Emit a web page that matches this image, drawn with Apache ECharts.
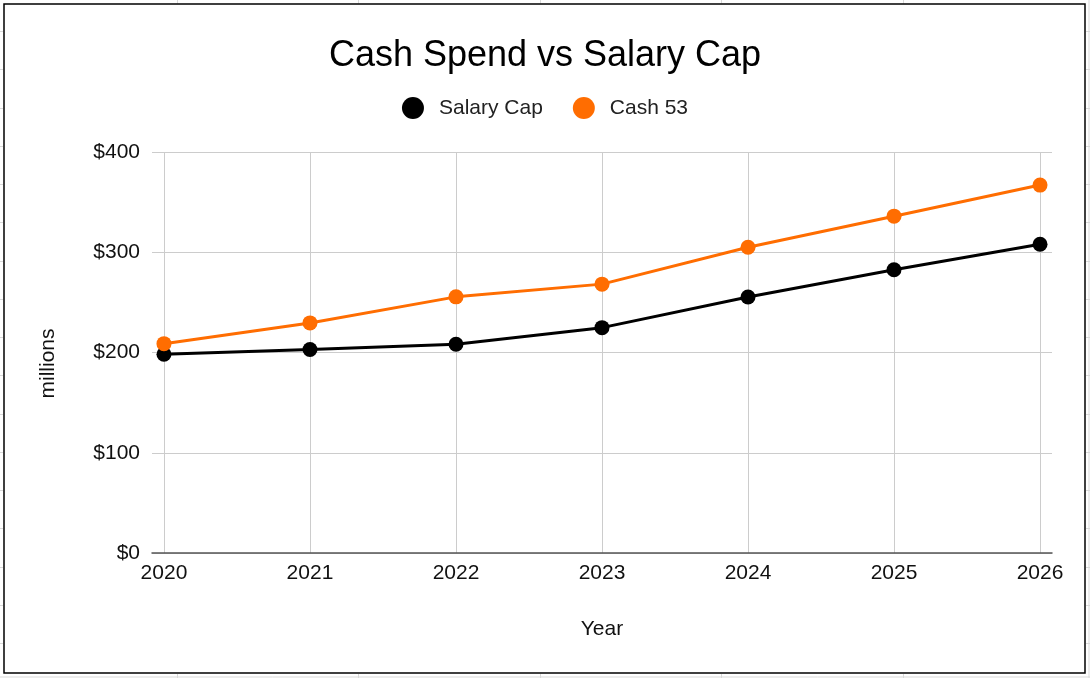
<!DOCTYPE html>
<html>
<head>
<meta charset="utf-8">
<script src="https://cdn.jsdelivr.net/npm/echarts@6/dist/echarts.min.js"></script>
<style>
html,body{margin:0;padding:0;background:#fff;}
#chart{width:1090px;height:678px;}
</style>
</head>
<body>
<div id="chart"></div>
<script>
const years = [2020, 2021, 2022, 2023, 2024, 2025, 2026];
const salaryCap = [198.2, 203, 208.2, 224.8, 255.4, 282.5, 308];
const cash53 = [208.8, 229.5, 255.5, 268.2, 305, 336, 367];
const yTicks = [0, 100, 200, 300, 400];
const seriesNames = ['Salary Cap', 'Cash 53'];
const seriesColors = ['#000000', '#ff6d01'];

const FONT = "'Liberation Sans', Arial, sans-serif";

// decorative spreadsheet cell lines outside the chart frame
const rowLines = [];
for (let y = 31; y < 678; y += 38.25) rowLines.push(Math.round(y) + 0.5);
const colLines = [177.5, 358.5, 540.5, 721.5, 903.5];
const deco = [];
rowLines.forEach(y => {
  deco.push({type:'line', shape:{x1:0,y1:y,x2:3,y2:y}, style:{stroke:'#d9d9d9', lineWidth:1}, silent:true});
  deco.push({type:'line', shape:{x1:1086,y1:y,x2:1090,y2:y}, style:{stroke:'#d9d9d9', lineWidth:1}, silent:true});
});
colLines.forEach(x => {
  deco.push({type:'line', shape:{x1:x,y1:0,x2:x,y2:3.5}, style:{stroke:'#d9d9d9', lineWidth:1}, silent:true});
  deco.push({type:'line', shape:{x1:x,y1:674,x2:x,y2:678}, style:{stroke:'#d9d9d9', lineWidth:1}, silent:true});
});
deco.push({type:'line', shape:{x1:1089,y1:0,x2:1089,y2:678}, style:{stroke:'#d9d9d9', lineWidth:1}, silent:true});
deco.push({type:'line', shape:{x1:0,y1:677,x2:1090,y2:677}, style:{stroke:'#d9d9d9', lineWidth:1}, silent:true});
deco.push({type:'rect', shape:{x:4,y:4,width:1081,height:669}, style:{fill:'none', stroke:'#000', lineWidth:1.5}, silent:true});

const chart = echarts.init(document.getElementById('chart'), null, {renderer:'canvas'});
chart.setOption({
  animation: false,
  backgroundColor: '#fff',
  textStyle: { fontFamily: FONT },
  graphic: deco,
  title: {
    text: 'Cash Spend vs Salary Cap',
    left: 'center',
    top: 33,
    textStyle: { fontFamily: FONT, fontSize: 36, fontWeight: 'normal', color: '#000' }
  },
  legend: {
    data: seriesNames,
    left: 'center',
    top: 92,
    icon: 'circle',
    itemWidth: 22,
    itemHeight: 22,
    itemGap: 30,
    textStyle: { fontFamily: FONT, fontSize: 21, color: '#222', padding: [0, 0, 0, 10] }
  },
  grid: { left: 152, right: 38, top: 152, bottom: 125, containLabel: false },
  xAxis: {
    type: 'value',
    min: 2019.918,
    max: 2026.082,
    name: 'Year',
    nameLocation: 'middle',
    nameGap: 66,
    nameTextStyle: { fontFamily: FONT, fontSize: 21, color: '#111' },
    axisLine: { show: true, lineStyle: { color: '#555', width: 1.5 } },
    axisTick: { show: false, customValues: years },
    axisLabel: { customValues: years, fontFamily: FONT, fontSize: 21, color: '#111', margin: 10, formatter: v => String(v) },
    splitLine: { show: true, lineStyle: { color: '#cccccc', width: 1 } }
  },
  yAxis: {
    type: 'value',
    min: yTicks[0],
    max: yTicks[yTicks.length - 1],
    interval: 100,
    name: 'millions',
    nameLocation: 'middle',
    nameRotate: 90,
    nameGap: 93,
    nameTextStyle: { fontFamily: FONT, fontSize: 21, color: '#111', padding: [0, 22, 0, 0] },
    axisLine: { show: false },
    axisTick: { show: false },
    axisLabel: { fontFamily: FONT, fontSize: 21, color: '#111', margin: 12, formatter: v => '$' + v },
    splitLine: { show: true, lineStyle: { color: '#cccccc', width: 1 } }
  },
  series: [
    {
      name: seriesNames[0], type: 'line',
      data: years.map((y, i) => [y, salaryCap[i]]),
      symbol: 'circle', symbolSize: 15,
      lineStyle: { color: seriesColors[0], width: 3 },
      itemStyle: { color: seriesColors[0] },
      z: 3
    },
    {
      name: seriesNames[1], type: 'line',
      data: years.map((y, i) => [y, cash53[i]]),
      symbol: 'circle', symbolSize: 15,
      lineStyle: { color: seriesColors[1], width: 3 },
      itemStyle: { color: seriesColors[1] },
      z: 4
    }
  ]
});
</script>
</body>
</html>
